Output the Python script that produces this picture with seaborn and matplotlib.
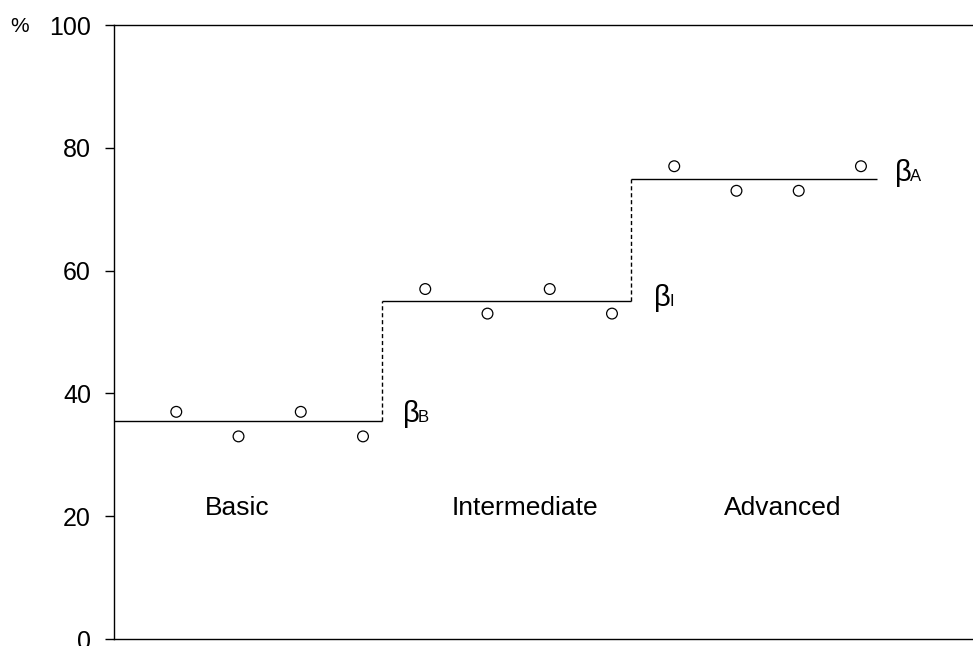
import matplotlib
matplotlib.use('Agg')
import matplotlib.pyplot as plt
import seaborn as sns
import pandas as pd

# observed points, four per level
levels = ['Basic'] * 4 + ['Intermediate'] * 4 + ['Advanced'] * 4
position = [1, 2, 3, 4, 5, 6, 7, 8, 9, 10, 11, 12]
percent = [37, 33, 37, 33, 57, 53, 57, 53, 77, 73, 73, 77]

# estimated level (beta) per group
group_names = ['Basic', 'Intermediate', 'Advanced']
group_beta = [35.5, 55, 75]
group_edges = [0, 4.3, 8.3, 12.25]
beta_letters = ['B', 'I', 'A']

yticks = [0, 20, 40, 60, 80, 100]

sns.set_theme(style='ticks')
plt.rcParams['font.family'] = ['Liberation Sans', 'DejaVu Sans']

df = pd.DataFrame({'level': levels, 'x': position, 'pct': percent})

fig = plt.figure(figsize=(9.73, 6.46), dpi=100)
ax = fig.add_axes([0.1172, 0.0108, 0.8828, 0.9505])

sns.scatterplot(data=df, x='x', y='pct', ax=ax, s=60, marker='o',
                facecolors='none', edgecolor='black', linewidth=0.9,
                legend=False, zorder=3)

for i, beta in enumerate(group_beta):
    ax.hlines(beta, group_edges[i], group_edges[i + 1], color='black', lw=1)
    if i > 0:
        ax.vlines(group_edges[i], group_beta[i - 1], beta, color='black',
                  lw=1, linestyles=(0, (3, 2)))

# group names
name_x = [1.98, 6.6, 10.74]
for nx, name in zip(name_x, group_names):
    ax.text(nx, 21.4, name, ha='center', va='center', fontsize=19,
            color='black')

# beta labels
beta_x = [4.64, 8.68, 12.54]
beta_base = [35.3, 54.2, 74.6]
for bx, by, letter in zip(beta_x, beta_base, beta_letters):
    ax.text(bx, by, 'β', ha='left', va='baseline', fontsize=21, color='black')
    ax.annotate(letter, xy=(bx, by), xytext=(11, 0), textcoords='offset points',
                ha='left', va='baseline', fontsize=12, color='black')

ax.set_xlim(0, 13.8)
ax.set_ylim(0, 100)
ax.set_yticks(yticks)
ax.set_xticks([])
ax.set_xlabel('')
ax.set_ylabel('')
ax.tick_params(axis='y', direction='out', length=6.5, width=1, pad=10,
               labelsize=18, colors='black')
for side in ['left', 'top', 'bottom']:
    ax.spines[side].set_color('black')
    ax.spines[side].set_linewidth(1)
ax.spines['right'].set_visible(False)

fig.text(20 / 973, 1 - 27 / 646, '%', ha='center', va='center', fontsize=15,
         color='black')

fig.savefig('out.png', dpi=100)
